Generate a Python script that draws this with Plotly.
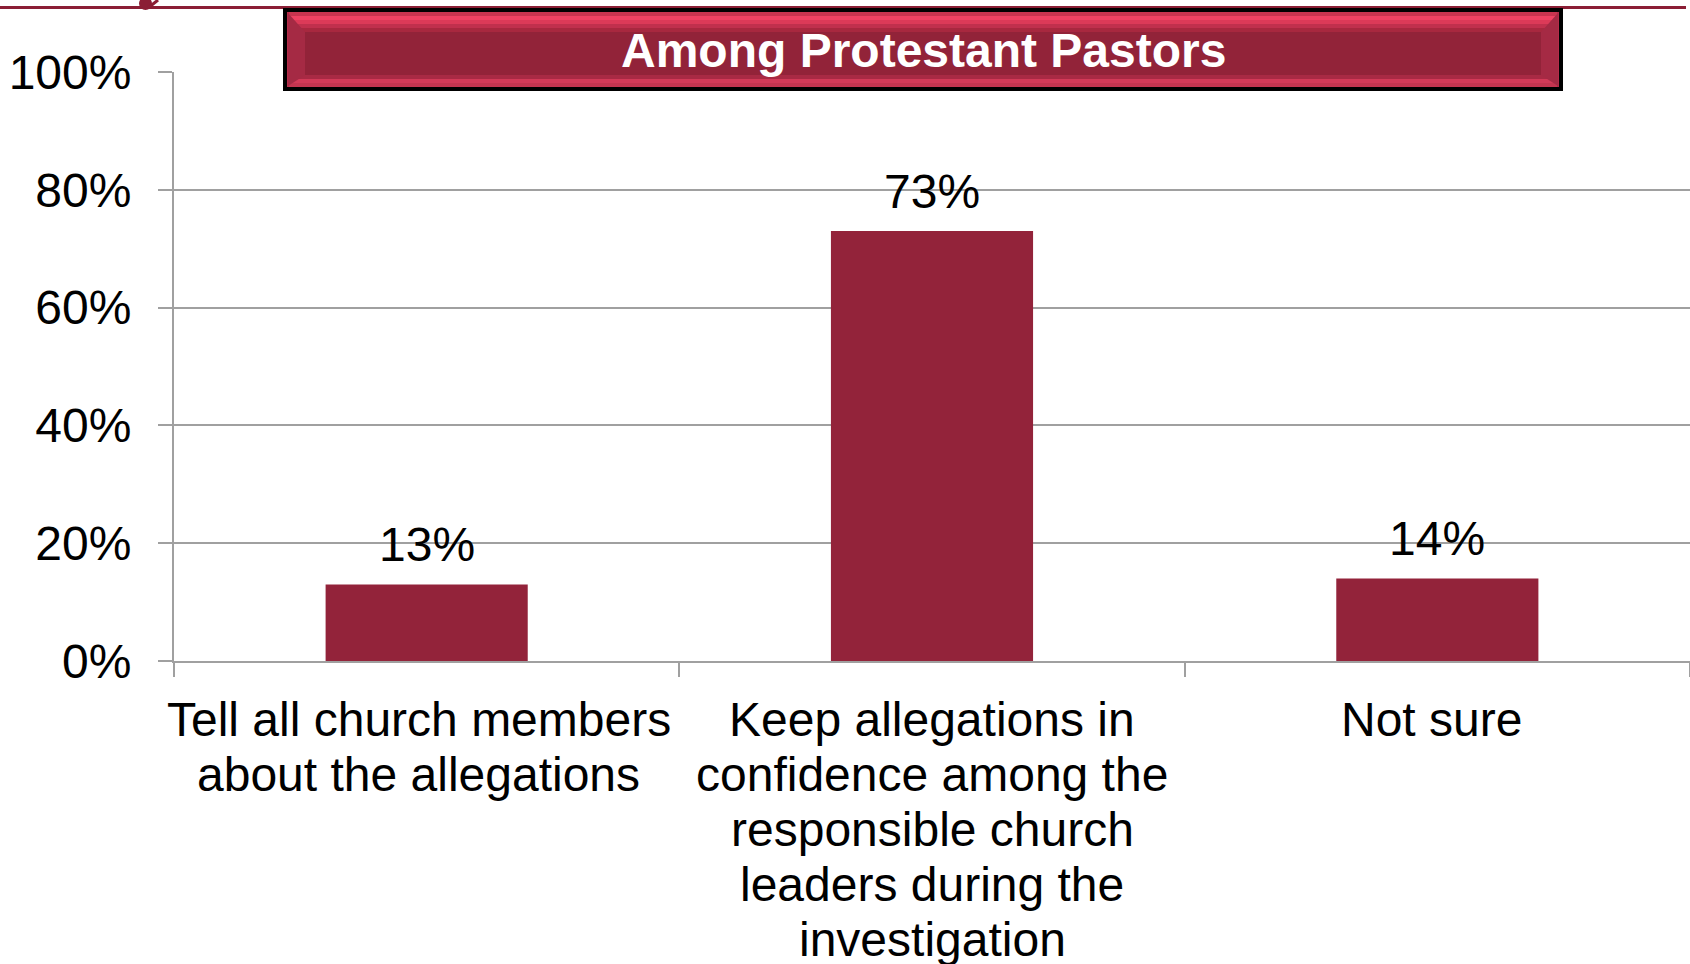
import plotly.graph_objects as go

# ---- data ----
categories = ["Tell all church members about the allegations",
              "Keep allegations in confidence among the responsible church leaders during the investigation",
              "Not sure"]
label_lines = [["Tell all church members", "about the allegations"],
               ["Keep allegations in", "confidence among the", "responsible church",
                "leaders during the", "investigation"],
               ["Not sure"]]
values = [13, 73, 14]
value_labels = ["13%", "73%", "14%"]
y_tickvals = [0, 20, 40, 60, 80, 100]
y_ticktext = ["0%", "20%", "40%", "60%", "80%", "100%"]
title_text = "Among Protestant Pastors"

# ---- layout geometry (pixels) ----
W, H = 1690, 964
ML, MR, MT, MB = 174, 0, 72, 303
PW, PH = W - ML - MR, H - MT - MB
FONT = "Liberation Sans, Arial, Helvetica, sans-serif"
BAR = "#93233A"
GRID = "#A0A0A0"
FS = 48


def px(x):
    return (x - ML) / PW


def py(y):
    return (H - MB - y) / PH


fig = go.Figure(go.Bar(x=categories, y=values, marker=dict(color=BAR, line=dict(width=0)),
                       width=0.4, hoverinfo="skip"))

annotations = []
# value labels
for c, v, t in zip(categories, values, value_labels):
    annotations.append(dict(x=c, y=v, xref="x", yref="y", text=t, showarrow=False,
                            yanchor="middle", yshift=40,
                            font=dict(family=FONT, size=FS, color="black")))
# category labels
xshifts = [-8, 0, -6]
for c, lines, xs in zip(categories, label_lines, xshifts):
    for j, ln in enumerate(lines):
        annotations.append(dict(x=c, y=0, xref="x", yref="y", text=ln, showarrow=False,
                                yanchor="middle", yshift=-(719 - (H - MB)) - 55 * j,
                                xshift=xs,
                                font=dict(family=FONT, size=FS, color="black")))
# title
annotations.append(dict(x=px(923), y=py(50), xref="paper", yref="paper", text="<b>%s</b>" % title_text,
                        showarrow=False, xanchor="center", yanchor="middle",
                        font=dict(family=FONT, size=FS, color="white")))

shapes = []
# top decorative line
shapes.append(dict(type="line", xref="paper", yref="paper", x0=px(0), x1=px(1686), y0=py(7.5), y1=py(7.5),
                   line=dict(color="#8B1E35", width=3), layer="above"))
shapes.append(dict(type="circle", xref="paper", yref="paper", x0=px(139), x1=px(152), y0=py(-3), y1=py(10),
                   fillcolor="#8B1E35", line=dict(width=0), layer="above"))
shapes.append(dict(type="line", xref="paper", yref="paper", x0=px(148), x1=px(158), y0=py(8), y1=py(0),
                   line=dict(color="#8B1E35", width=3), layer="above"))
# title box: black frame
shapes.append(dict(type="rect", xref="paper", yref="paper", x0=px(283), x1=px(1563), y0=py(91), y1=py(8),
                   fillcolor="black", line=dict(width=0), layer="above"))
# bevel base
shapes.append(dict(type="rect", xref="paper", yref="paper", x0=px(287), x1=px(1559), y0=py(87), y1=py(12),
                   fillcolor="#B42C49", line=dict(width=0), layer="above"))
# top / bottom highlight bands
for y0, y1, col in [(12, 16, "#C8344F"), (16, 20, "#EE4262"), (20, 24, "#DC3A58"), (24, 28, "#C0304D"),
                    (28, 32, "#A8283F"), (83, 87, "#C43550"), (79, 83, "#D23A58"), (75, 79, "#A82A44")]:
    shapes.append(dict(type="rect", xref="paper", yref="paper", x0=px(289), x1=px(1557), y0=py(y1), y1=py(y0),
                       fillcolor=col, line=dict(width=0), layer="above"))
# left / right bevel sides
shapes.append(dict(type="path", xref="paper", yref="paper", layer="above", line=dict(width=0),
                   fillcolor="#A52A44",
                   path="M %f %f L %f %f L %f %f L %f %f Z" % (px(288), py(13), px(305), py(32), px(305), py(75),
                                                               px(288), py(86))))
shapes.append(dict(type="path", xref="paper", yref="paper", layer="above", line=dict(width=0),
                   fillcolor="#A52A44",
                   path="M %f %f L %f %f L %f %f L %f %f Z" % (px(1558), py(13), px(1541), py(32), px(1541), py(75),
                                                               px(1558), py(86))))
# inner flat
shapes.append(dict(type="rect", xref="paper", yref="paper", x0=px(305), x1=px(1541), y0=py(75), y1=py(32),
                   fillcolor="#922339", line=dict(width=0), layer="above"))

fig.update_layout(
    width=W, height=H,
    margin=dict(l=ML, r=MR, t=MT, b=MB, pad=0),
    paper_bgcolor="white", plot_bgcolor="white",
    showlegend=False,
    bargap=0.6,
    font=dict(family=FONT, size=FS, color="black"),
    xaxis=dict(type="category", range=[-0.5, 2.5], autorange=False, showticklabels=False, showgrid=False,
               ticks="outside", tickson="boundaries", ticklen=14, tickwidth=1.5, tickcolor=GRID,
               showline=True, linecolor=GRID, linewidth=2, zeroline=False, fixedrange=True),
    yaxis=dict(range=[0, 100], tickvals=y_tickvals, ticktext=y_ticktext,
               ticks="outside", ticklen=14, tickwidth=2, tickcolor=GRID,
               ticklabelstandoff=17,
               showgrid=True, gridcolor=GRID, gridwidth=2,
               showline=True, linecolor=GRID, linewidth=2, zeroline=False,
               tickfont=dict(family=FONT, size=FS, color="black"), fixedrange=True),
    annotations=annotations,
    shapes=shapes,
)

fig.write_html("out.html", config={"displayModeBar": False},
               post_script="document.body.style.margin='0';document.body.style.overflow='hidden';")
